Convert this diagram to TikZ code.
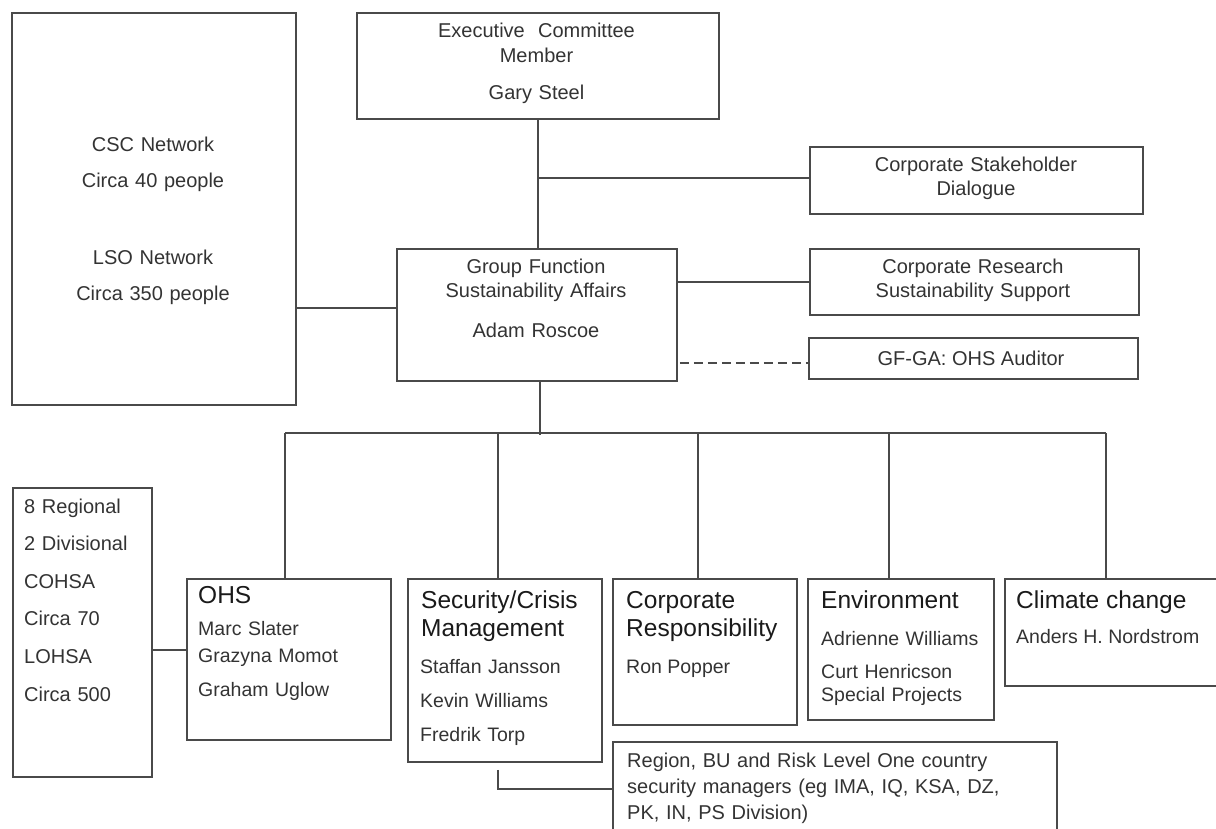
\documentclass[tikz,border=0pt]{standalone}
\usepackage{fontspec}
\setmainfont{Liberation Sans}
\usetikzlibrary{calc}
\definecolor{linegray}{HTML}{4A4A4A}
\definecolor{txtgray}{HTML}{333333}
\definecolor{headblack}{HTML}{1A1A1A}

\begin{document}
\begin{tikzpicture}[x=1pt,y=-1pt,
  box/.style={draw=linegray, line width=1.8pt, rectangle, inner sep=0pt, anchor=north west},
  link/.style={draw=linegray, line width=1.8pt},
  dashlink/.style={link, dash pattern=on 9pt off 5pt},
  body/.style={inner sep=0pt, text=txtgray, font=\fontsize{20}{25}\selectfont},
  names/.style={inner sep=0pt, text=txtgray, font=\fontsize{19.5}{27}\selectfont},
  head/.style={inner sep=0pt, text=headblack, font=\fontsize{24.5}{28}\selectfont},
]
\useasboundingbox (0,0) rectangle (1216,829);
\clip (0,0) rectangle (1216,829);

% ---- boxes ----
\node[box, minimum width=284, minimum height=392] (csc) at (11,12) {};
\node[box, minimum width=362, minimum height=106] (exec) at (356,12) {};
\node[box, minimum width=333, minimum height=67] (csd) at (809,146) {};
\node[box, minimum width=329, minimum height=66] (res) at (809,248) {};
\node[box, minimum width=329, minimum height=41] (ga) at (808,337) {};
\node[box, minimum width=280, minimum height=132] (gf) at (396,248) {};
\node[box, minimum width=139, minimum height=289] (lhs) at (12,487) {};
\node[box, minimum width=204, minimum height=161] (ohs) at (186,578) {};
\node[box, minimum width=194, minimum height=183] (sec) at (407,578) {};
\node[box, minimum width=184, minimum height=146] (cr) at (612,578) {};
\node[box, minimum width=186, minimum height=141] (env) at (807,578) {};
\node[box, minimum width=230, minimum height=107] (cc) at (1004,578) {};
\node[box, minimum width=444, minimum height=120] (reg) at (612,741) {};

% ---- texts ----
\node[body, font=\fontsize{20}{36}\selectfont, anchor=base, text width=270, align=center] (csctxt) at (153,152)
  {CSC Network\\Circa 40 people\\[41pt]LSO Network\\Circa 350 people};
\node[body, anchor=base, text width=340, align=center] (exectxt) at (536.5,38)
  {Executive\ \ Committee\\Member\\[12pt]Gary Steel};
\node[body, font=\fontsize{20}{24}\selectfont, anchor=base, text width=300, align=center] (csdtxt) at (976,172)
  {Corporate Stakeholder\\Dialogue};
\node[body, font=\fontsize{20}{24}\selectfont, anchor=base, text width=300, align=center] (restxt) at (973,274)
  {Corporate Research\\Sustainability Support};
\node[body, anchor=base] (gatxt) at (971,365) {GF-GA: OHS Auditor};
\node[body, font=\fontsize{20}{24}\selectfont, anchor=base, text width=260, align=center] (gftxt) at (536,274)
  {Group Function\\Sustainability Affairs\\[15pt]Adam Roscoe};
\node[body, font=\fontsize{20}{37.6}\selectfont, anchor=base west, text width=120, align=left] (lhstxt) at (24,513)
  {8 Regional\\2 Divisional\\COHSA\\Circa 70\\LOHSA\\Circa 500};

\node[head, anchor=base west] (ohshd) at (198,603) {OHS};
\node[names, anchor=base west, text width=185, align=left] (ohstxt) at (198,635)
  {Marc Slater\\Grazyna Momot\\[7pt]Graham Uglow};

\node[head, anchor=base west, text width=180, align=left] (sechd) at (421,608)
  {Security/Crisis\\Management};
\node[names, font=\fontsize{19.5}{34}\selectfont, anchor=base west, text width=175, align=left] (sectxt) at (420,673)
  {Staffan Jansson\\Kevin Williams\\Fredrik Torp};

\node[head, anchor=base west, text width=170, align=left] (crhd) at (626,608)
  {Corporate\\Responsibility};
\node[names, anchor=base west] (crtxt) at (626,673) {Ron Popper};

\node[head, anchor=base west] (envhd) at (821,608) {Environment};
\node[names, font=\fontsize{19.5}{23}\selectfont, anchor=base west, text width=170, align=left] (envtxt) at (821,645)
  {Adrienne Williams\\[10pt]Curt Henricson\\Special Projects};

\node[head, anchor=base west] (cchd) at (1016,608) {Climate change};
\node[names, anchor=base west] (cctxt) at (1016,643) {Anders H. Nordstrom};

\node[body, font=\fontsize{20}{26}\selectfont, anchor=base west, text width=425, align=left] (regtxt) at (627,767)
  {Region, BU and Risk Level One country\\security managers (eg IMA, IQ, KSA, DZ,\\PK, IN, PS Division)};

% ---- connectors ----
\draw[link] (exec.south) -- (exec.south |- gf.north);
\coordinate (jcsd) at ($(exec.south |- csd.west)+(0,-2.5)$);
\draw[link] (jcsd) -- ($(csd.west)+(0,-2.5)$);
\draw[link] (gf.east |- res.west) -- (res.west);
\draw[dashlink] ($(gf.east |- ga.west)+(2,4.5)$) -- ($(ga.west)+(0,4.5)$);
\draw[link] ($(csc.east)+(0,99)$) -- ($(gf.west)+(0,-7)$);

\coordinate (bus) at ($(gf.south)+(3,53)$);
\draw[link] ($(gf.south)+(3,0)$) -- (bus);
\draw[link] ($(ohs.north west)+(99,-145)$) -- ($(cc.north west)+(102,-145)$);
\foreach \n/\dx in {ohs/99, sec/91, cr/86, env/82, cc/102}
  \draw[link] ($(\n.north west)+(\dx,0)$) -- ++(0,-145);

\draw[link] ($(lhs.east)+(0,17.5)$) -- ($(ohs.west)+(0,-9.5)$);
\draw[link] ($(sec.south west)+(91,7)$) |- ($(reg.north west)+(0,48)$);
\end{tikzpicture}
\end{document}
